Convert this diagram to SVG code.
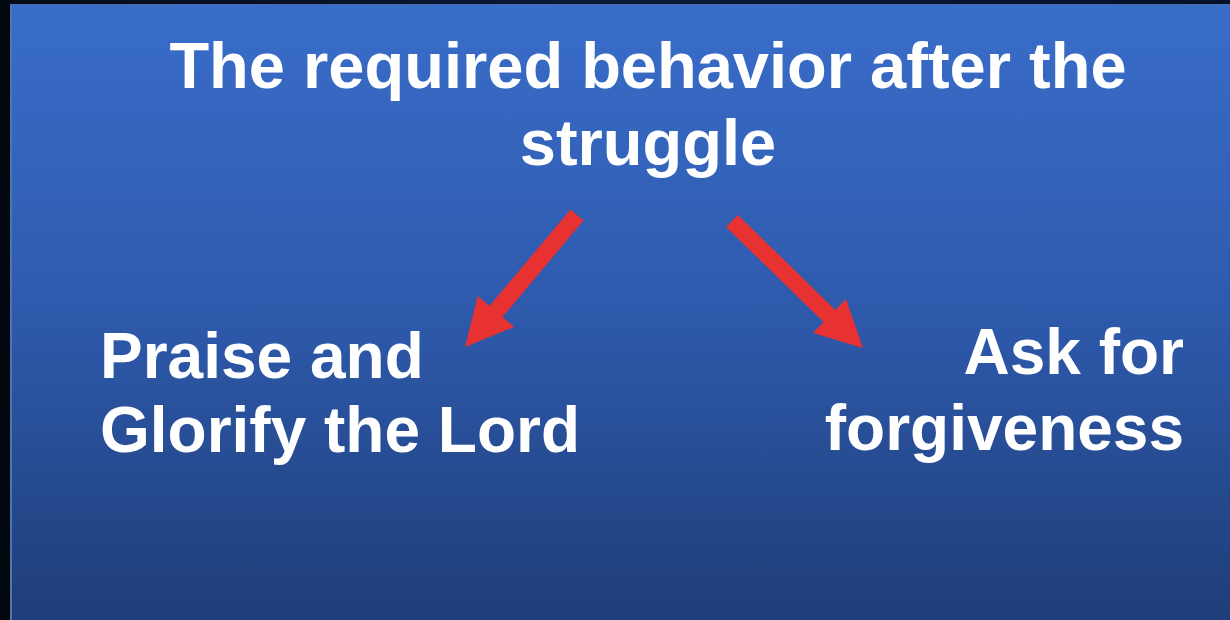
<svg xmlns="http://www.w3.org/2000/svg" width="1230" height="620" viewBox="0 0 1230 620">
  <defs>
    <linearGradient id="bg" x1="0" y1="0" x2="0" y2="1">
      <stop offset="0" stop-color="#396DCA"/>
      <stop offset="0.5" stop-color="#2E5AAC"/>
      <stop offset="1" stop-color="#1F3D78"/>
    </linearGradient>
    <linearGradient id="topband" x1="0" y1="0" x2="1" y2="0">
      <stop offset="0" stop-color="#050B18"/>
      <stop offset="0.5" stop-color="#0A1A3A"/>
      <stop offset="1" stop-color="#06102A"/>
    </linearGradient>
  </defs>
  <style>
    .t { font-family: "Liberation Sans", Arial, sans-serif; font-weight: bold; fill: #FFFFFF; }
    .title { font-size: 65px; }
    .lbl { font-size: 64px; }
    .arrow { fill: #E83131; }
  </style>
  <rect x="0" y="0" width="1230" height="620" fill="#02060F"/>
  <rect x="10" y="0" width="1220" height="4" fill="url(#topband)"/>
  <rect x="10" y="4" width="1220" height="616" fill="url(#bg)"/>
  <rect x="10" y="4" width="2" height="616" fill="#4F78AE"/>
  <rect x="10" y="4" width="1220" height="1" fill="#4A6FA8"/>

  <g id="title">
    <text class="t title" x="648" y="88" text-anchor="middle">The required behavior after the</text>
    <text class="t title" x="648" y="165" text-anchor="middle">struggle</text>
  </g>

  <g id="praise">
    <text class="t lbl" x="100" y="378">Praise and</text>
    <text class="t lbl" x="100" y="452">Glorify the Lord</text>
  </g>

  <g id="forgiveness">
    <text class="t lbl" x="1184" y="374" text-anchor="end">Ask for</text>
    <text class="t lbl" x="1184" y="450" text-anchor="end">forgiveness</text>
  </g>

  <g id="connectors">
    <polygon class="arrow" points="570.5,209.5 583.5,220.5 502.5,317 514.2,326.9 465,347 477.8,296.1 489.5,306"/>
    <polygon class="arrow" points="737.9,214.9 726.1,227.1 823.6,322.1 813,333 863,348 846,299 835.4,309.9"/>
  </g>
</svg>
